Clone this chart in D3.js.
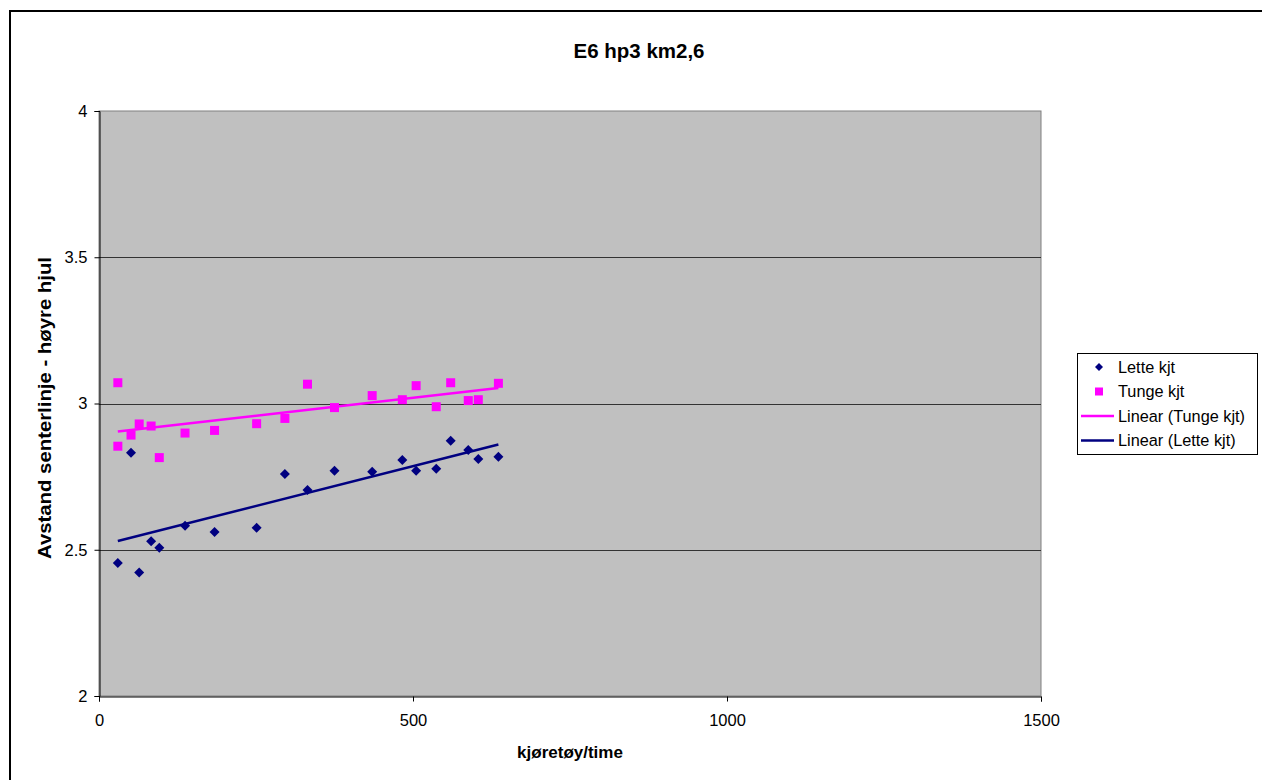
<!DOCTYPE html>
<html>
<head>
<meta charset="utf-8">
<script src="https://cdn.jsdelivr.net/npm/d3@7"></script>
<style>
  body { margin: 0; background: #fff; }
  svg { font-family: "Liberation Sans", Arial, sans-serif; }
</style>
</head>
<body>
<div id="chart"></div>
<script>
const title = "E6 hp3 km2,6";
const xLabel = "kjøretøy/time";
const yLabel = "Avstand senterlinje - høyre hjul";

// Lette kjt (light vehicles)
const letteX = [30, 51, 64, 83, 96, 137, 184, 251, 296, 332, 375, 435, 483, 505, 537, 560, 588, 604, 636];
const letteY = [2.455, 2.832, 2.422, 2.529, 2.507, 2.582, 2.561, 2.575, 2.759, 2.704, 2.770, 2.767, 2.807, 2.770, 2.777, 2.873, 2.841, 2.810, 2.818];

// Tunge kjt (heavy vehicles)
const tungeX = [30, 30, 51, 64, 83, 96, 137, 184, 251, 296, 332, 375, 435, 483, 505, 537, 560, 588, 604, 636];
const tungeY = [3.071, 2.854, 2.892, 2.930, 2.923, 2.815, 2.899, 2.908, 2.931, 2.949, 3.066, 2.986, 3.027, 3.013, 3.061, 2.989, 3.071, 3.010, 3.013, 3.069];

const xTicks = [0, 500, 1000, 1500];
const yTicks = [2, 2.5, 3, 3.5, 4];

const W = 1262, H = 780;
const plot = { left: 99, right: 1041, top: 111, bottom: 696 };

const svg = d3.select("#chart").append("svg")
    .attr("width", W)
    .attr("height", H);

// outer chart frame
svg.append("rect")
    .attr("x", 10).attr("y", 11)
    .attr("width", W + 20).attr("height", H + 20)
    .attr("fill", "#fff")
    .attr("stroke", "#000")
    .attr("stroke-width", 2);

const x = d3.scaleLinear().domain([0, 1500]).range([plot.left, plot.right]);
const y = d3.scaleLinear().domain([2, 4]).range([plot.bottom, plot.top]);

// plot area
svg.append("rect")
    .attr("x", plot.left).attr("y", plot.top)
    .attr("width", plot.right - plot.left)
    .attr("height", plot.bottom - plot.top)
    .attr("fill", "#c0c0c0")
    .attr("stroke", "#808080")
    .attr("stroke-width", 1);

// gridlines
svg.append("g")
    .selectAll("line")
    .data(yTicks.filter(d => d > 2 && d < 4))
    .enter().append("line")
    .attr("x1", plot.left).attr("x2", plot.right)
    .attr("y1", d => Math.round(y(d)) + 0.5)
    .attr("y2", d => Math.round(y(d)) + 0.5)
    .attr("stroke", "#333")
    .attr("stroke-width", 1);

// axes
const yAxis = svg.append("g")
    .attr("transform", `translate(${plot.left + 0.5},0)`)
    .call(d3.axisLeft(y).tickValues(yTicks).tickSize(5).tickPadding(7).tickFormat(d => d));
const xAxis = svg.append("g")
    .attr("transform", `translate(0,${plot.bottom + 0.5})`)
    .call(d3.axisBottom(x).tickValues(xTicks).tickSize(5).tickPadding(13).tickFormat(d => d));

[yAxis, xAxis].forEach(a => {
    a.select(".domain").attr("stroke", "#000");
    a.selectAll(".tick line").attr("stroke", "#000");
    a.selectAll("text")
        .style("font-family", "'Liberation Sans', Arial, sans-serif")
        .style("font-size", "16.5px")
        .attr("fill", "#000");
});

// linear trendlines (least squares, like the spreadsheet trendline)
function fit(xs, ys) {
    const n = xs.length;
    const mx = d3.mean(xs), my = d3.mean(ys);
    let sxy = 0, sxx = 0;
    for (let i = 0; i < n; i++) {
        sxy += (xs[i] - mx) * (ys[i] - my);
        sxx += (xs[i] - mx) * (xs[i] - mx);
    }
    const b = sxy / sxx;
    const a = my - b * mx;
    const x0 = d3.min(xs), x1 = d3.max(xs);
    return [[x0, a + b * x0], [x1, a + b * x1]];
}

const line = d3.line().x(d => x(d[0])).y(d => y(d[1]));

svg.append("path")
    .datum(fit(tungeX, tungeY))
    .attr("d", line)
    .attr("fill", "none")
    .attr("stroke", "#ff00ff")
    .attr("stroke-width", 2.5);

svg.append("path")
    .datum(fit(letteX, letteY))
    .attr("d", line)
    .attr("fill", "none")
    .attr("stroke", "#000080")
    .attr("stroke-width", 2.5);

// markers
const tunge = tungeX.map((v, i) => [v, tungeY[i]]);
const lette = letteX.map((v, i) => [v, letteY[i]]);

svg.append("g")
    .selectAll("rect")
    .data(tunge)
    .enter().append("rect")
    .attr("x", d => x(d[0]) - 4.5)
    .attr("y", d => y(d[1]) - 4.5)
    .attr("width", 9).attr("height", 9)
    .attr("fill", "#ff00ff");

svg.append("g")
    .selectAll("path")
    .data(lette)
    .enter().append("path")
    .attr("transform", d => `translate(${x(d[0])},${y(d[1])})`)
    .attr("d", "M0,-5L5,0L0,5L-5,0Z")
    .attr("fill", "#000080");

// title and axis labels
svg.append("text")
    .attr("x", 639).attr("y", 58)
    .attr("text-anchor", "middle")
    .style("font-size", "20.5px")
    .style("font-weight", "bold")
    .text(title);

svg.append("text")
    .attr("x", 570).attr("y", 758)
    .attr("text-anchor", "middle")
    .style("font-size", "17px")
    .style("font-weight", "bold")
    .text(xLabel);

svg.append("text")
    .attr("transform", `translate(51,408) rotate(-90)`)
    .attr("text-anchor", "middle")
    .attr("textLength", 302)
    .attr("lengthAdjust", "spacingAndGlyphs")
    .style("font-size", "17.5px")
    .style("font-weight", "bold")
    .text(yLabel);

// legend
const legendItems = [
    { name: "Lette kjt", type: "diamond", color: "#000080" },
    { name: "Tunge kjt", type: "square", color: "#ff00ff" },
    { name: "Linear (Tunge kjt)", type: "line", color: "#ff00ff" },
    { name: "Linear (Lette kjt)", type: "line", color: "#000080" }
];

const lg = svg.append("g").attr("transform", "translate(1077,353)");
lg.append("rect")
    .attr("x", 0.5).attr("y", 0.5)
    .attr("width", 180).attr("height", 101)
    .attr("fill", "#fff")
    .attr("stroke", "#000");

const item = lg.selectAll(".legend")
    .data(legendItems)
    .enter().append("g")
    .attr("class", "legend")
    .attr("transform", (d, i) => `translate(0,${14 + i * 24.5})`);

item.filter(d => d.type === "diamond").append("path")
    .attr("d", "M22,-4L26,0L22,4L18,0Z")
    .attr("fill", d => d.color);
item.filter(d => d.type === "square").append("rect")
    .attr("x", 18).attr("y", -4).attr("width", 8).attr("height", 8)
    .attr("fill", d => d.color);
item.filter(d => d.type === "line").append("line")
    .attr("x1", 4).attr("x2", 37)
    .attr("stroke", d => d.color)
    .attr("stroke-width", 2.5);

item.append("text")
    .attr("x", 41)
    .attr("dy", "0.35em")
    .style("font-size", "16.3px")
    .text(d => d.name);
</script>
</body>
</html>
